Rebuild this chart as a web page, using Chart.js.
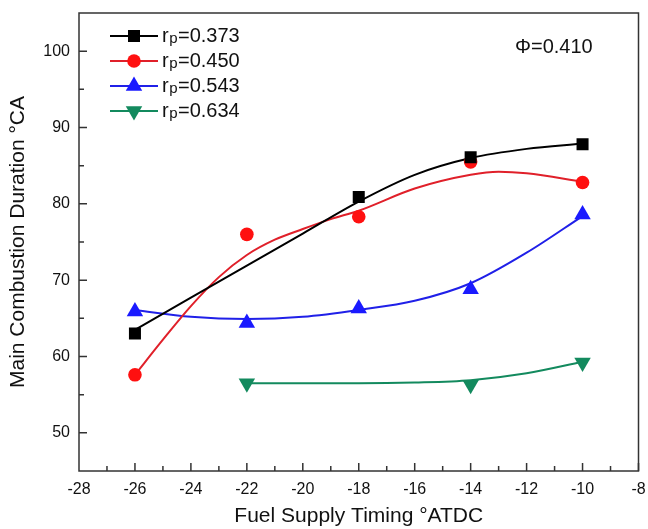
<!DOCTYPE html>
<html lang="en">
  <head>
    <meta charset="UTF-8" />
    <title>Main Combustion Duration</title>
    <script src="https://cdn.jsdelivr.net/npm/chart.js@4/dist/chart.umd.min.js"></script>
    <style>
      html, body { margin: 0; padding: 0; background: #fff; }
      #wrap { width: 648px; height: 529px; }
    </style>
  </head>
  <body>
    <div id="wrap"><canvas id="durationChart" width="648" height="529"></canvas></div>
    <script>
      // measured points, one array per rp
      var blackX = [-26, -18, -14, -10];
      var blackY = [63.0, 80.9, 86.1, 87.8];
      var redX = [-26, -22, -18, -14, -10];
      var redY = [57.6, 76.0, 78.3, 85.5, 82.8];
      var blueX = [-26, -22, -18, -14, -10];
      var blueY = [65.9, 64.4, 66.3, 68.8, 78.6];
      var greenX = [-22, -14, -10];
      var greenY = [56.5, 56.3, 59.2];

      // fitted curves
      var blackFitX = [-26, -24, -22, -20, -18, -16, -14, -12, -10];
      var blackFit = [63.5, 67.7, 71.9, 76.1, 80.3, 83.8, 86.0, 87.2, 87.9];
      var redFitX = [-26, -25, -24, -23, -22, -21, -20, -19, -18, -16, -14, -13, -12, -10];
      var redFit = [57.6, 62.2, 66.6, 70.4, 73.3, 75.3, 76.7, 78.0, 79.1, 82.0, 83.8, 84.2, 84.0, 82.9];
      var blueFitX = [-26, -24, -22, -20, -18, -16, -14, -12, -10];
      var blueFit = [66.1, 65.2, 64.9, 65.2, 66.1, 67.3, 69.6, 73.6, 78.4];
      var greenFitX = [-22, -20, -18, -16, -14, -12, -10];
      var greenFit = [56.5, 56.5, 56.5, 56.6, 56.9, 57.8, 59.3];

      var seriesLabels = ["0.373", "0.450", "0.543", "0.634"];
      var xTicks = [-28, -26, -24, -22, -20, -18, -16, -14, -12, -10, -8];
      var yTicks = [50, 60, 70, 80, 90, 100];

      var colors = ["#000000", "#ff1010", "#1a1aff", "#138a5e"];
      var lineColors = ["#000000", "#e0202a", "#2020e8", "#138a5e"];
      var styles = [
        { pointStyle: "rect", radius: 8.5, rotation: 0 },
        { pointStyle: "circle", radius: 6.8, rotation: 0 },
        { pointStyle: "triangle", radius: 9.5, rotation: 0 },
        { pointStyle: "triangle", radius: 9.5, rotation: 180 },
      ];

      function pairs(xs, ys) {
        return xs.map(function (x, i) {
          return { x: x, y: ys[i] };
        });
      }

      var fits = [
        pairs(blackFitX, blackFit),
        pairs(redFitX, redFit),
        pairs(blueFitX, blueFit),
        pairs(greenFitX, greenFit),
      ];
      var points = [
        pairs(blackX, blackY),
        pairs(redX, redY),
        pairs(blueX, blueY),
        pairs(greenX, greenY),
      ];

      var datasets = [];
      fits.forEach(function (d, i) {
        datasets.push({
          data: d,
          showLine: true,
          borderColor: lineColors[i],
          borderWidth: 2,
          pointRadius: 0,
          cubicInterpolationMode: "monotone",
          order: 2,
        });
      });
      points.forEach(function (d, i) {
        datasets.push({
          data: d,
          showLine: false,
          pointStyle: styles[i].pointStyle,
          pointRadius: styles[i].radius,
          pointRotation: styles[i].rotation,
          backgroundColor: colors[i],
          borderColor: colors[i],
          borderWidth: 0,
          order: 1,
        });
      });

      // frame and inward ticks
      var framePlugin = {
        id: "frame",
        afterDraw: function (chart) {
          var ctx = chart.ctx;
          var a = chart.chartArea;
          var xs = chart.scales.x;
          var ys = chart.scales.y;
          ctx.save();
          ctx.strokeStyle = "#333";
          ctx.lineWidth = 1.5;
          ctx.strokeRect(a.left, a.top, a.right - a.left, a.bottom - a.top);
          ctx.beginPath();
          for (var v = -27; v <= -8; v++) {
            var px = xs.getPixelForValue(v);
            var len = v % 2 === 0 ? 8 : 5;
            ctx.moveTo(px, a.bottom);
            ctx.lineTo(px, a.bottom - len);
          }
          for (var w = 50; w <= 100; w += 5) {
            var py = ys.getPixelForValue(w);
            var l2 = w % 10 === 0 ? 8 : 5;
            ctx.moveTo(a.left, py);
            ctx.lineTo(a.left + l2, py);
          }
          ctx.stroke();
          ctx.restore();
        },
      };

      // legend with subscript p, plus the phi note
      var legendPlugin = {
        id: "sideLegend",
        afterDraw: function (chart) {
          var ctx = chart.ctx;
          ctx.save();
          seriesLabels.forEach(function (lab, i) {
            var y = 36 + i * 25;
            ctx.strokeStyle = lineColors[i];
            ctx.lineWidth = 2;
            ctx.beginPath();
            ctx.moveTo(110, y);
            ctx.lineTo(158, y);
            ctx.stroke();
            ctx.fillStyle = colors[i];
            ctx.strokeStyle = colors[i];
            ctx.lineWidth = 0;
            Chart.helpers.drawPoint(
              ctx,
              {
                pointStyle: styles[i].pointStyle,
                radius: styles[i].radius,
                rotation: styles[i].rotation,
                borderWidth: 0,
              },
              134,
              y
            );
            ctx.fillStyle = "#111";
            ctx.textBaseline = "middle";
            ctx.textAlign = "left";
            ctx.font = "20px 'Liberation Sans', Arial, sans-serif";
            ctx.fillText("r", 162, y);
            var rw = ctx.measureText("r").width;
            ctx.font = "15px 'Liberation Sans', Arial, sans-serif";
            ctx.fillText("p", 162 + rw + 0.5, y + 3);
            var pw = ctx.measureText("p").width;
            ctx.font = "20px 'Liberation Sans', Arial, sans-serif";
            ctx.fillText("=" + lab, 162 + rw + pw + 1, y);
          });
          ctx.font = "20px 'Liberation Sans', Arial, sans-serif";
          ctx.fillText("\u03A6=0.410", 515, 47);
          ctx.restore();
        },
      };

      var tickFont = { family: "'Liberation Sans', Arial, sans-serif", size: 16 };
      var titleFont = { family: "'Liberation Sans', Arial, sans-serif", size: 21 };

      new Chart(document.getElementById("durationChart"), {
        type: "scatter",
        data: { datasets: datasets },
        options: {
          responsive: false,
          animation: false,
          layout: { padding: { top: 13, right: 7, left: 0, bottom: 0 } },
          plugins: {
            legend: { display: false },
            tooltip: { enabled: false },
          },
          scales: {
            x: {
              type: "linear",
              min: -28,
              max: -8,
              afterBuildTicks: function (scale) {
                scale.ticks = xTicks.map(function (v) {
                  return { value: v };
                });
              },
              afterFit: function (scale) {
                scale.height = 58;
                scale.paddingLeft = 0;
                scale.paddingRight = 0;
              },
              grid: { display: false, tickLength: 0 },
              border: { display: false },
              ticks: { color: "#111", font: tickFont, padding: 9, maxRotation: 0 },
              title: {
                display: true,
                text: "Fuel Supply Timing \u00B0ATDC",
                color: "#111",
                font: titleFont,
                padding: { top: 0, bottom: 0 },
              },
            },
            y: {
              type: "linear",
              min: 45,
              max: 105,
              afterBuildTicks: function (scale) {
                scale.ticks = yTicks.map(function (v) {
                  return { value: v };
                });
              },
              afterFit: function (scale) {
                scale.width = 79;
                scale.paddingTop = 0;
                scale.paddingBottom = 0;
              },
              grid: { display: false, tickLength: 0 },
              border: { display: false },
              ticks: { color: "#111", font: tickFont, padding: 9 },
              title: {
                display: true,
                text: "Main Combustion Duration \u00B0CA",
                color: "#111",
                font: titleFont,
                padding: { top: 6, bottom: 0 },
              },
            },
          },
        },
        plugins: [framePlugin, legendPlugin],
      });
    </script>
  </body>
</html>
